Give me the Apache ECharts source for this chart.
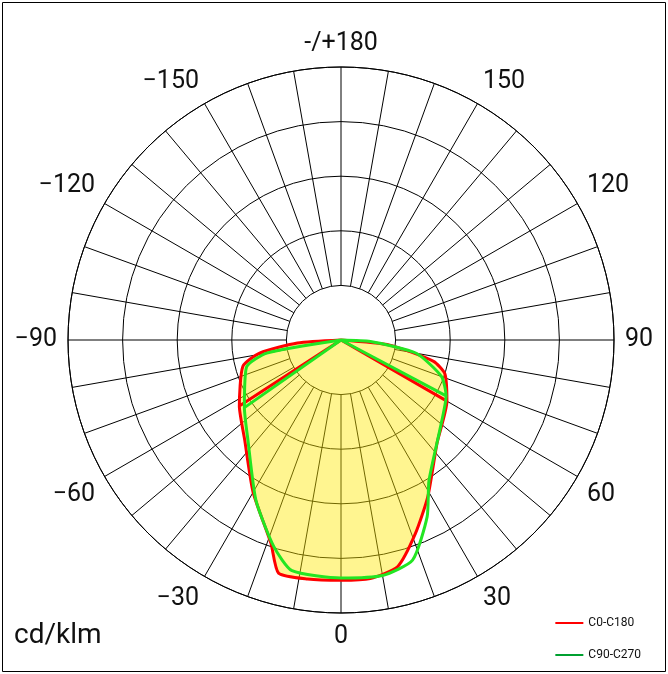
<!DOCTYPE html>
<html><head><meta charset="utf-8">
<script src="https://cdn.jsdelivr.net/npm/echarts@6/dist/echarts.min.js"></script>
<style>html,body{margin:0;padding:0;background:#fff}#c{width:668px;height:674px}</style>
</head><body><div id="c"></div>
<script>
// [intensity cd/klm, angle deg]
const c0c180 = [[111,-57],[0,-90],[40,-86],[75,-81],[93,-75],[111,-57],[127,-44],[161,-30],[197,-19],[221,-15],[221,-8],[220,0],[220,7],[214,14],[190,21],[164,29],[129,43],[112,60],[100,72],[87,77],[45,84],[0,90],[112,60]];
const c90c270 = [[108,-55],[0,-90],[69,-80],[90,-74],[108,-55],[125,-43],[166,-28],[199,-18],[216,-12],[218,0],[219,10],[212,18],[180,26],[152,32],[122,48],[109,62],[98,70],[70,80],[27,87],[0,90],[109,62]];
const spokeAngles = [];
for (let a = -180; a < 180; a += 10) spokeAngles.push(a);
const labelAngles = [-180,-150,-120,-90,-60,-30,0,30,60,90,120,150];

const spokes = [];
spokeAngles.forEach(a => { spokes.push([50, a], [250, a], '-'); });

const chart = echarts.init(document.getElementById('c'));
chart.setOption({
  animation: false,
  textStyle: {fontFamily: 'Roboto'},
  polar: {center: [341, 340], radius: 273},
  angleAxis: {
    type: 'value', min: -180, max: 180, interval: 10, startAngle: 90, clockwise: false,
    axisLine: {lineStyle: {color: '#000', width: 1}},
    axisTick: {show: false},
    splitLine: {show: false},
    axisLabel: {
      margin: 11, fontSize: 25, color: '#111',
      formatter: v => v === -180 ? '-/+180' : (labelAngles.includes(v) ? String(v).replace('-', '−') : '')
    }
  },
  radiusAxis: {
    min: 0, max: 250, interval: 50,
    axisLine: {show: false}, axisTick: {show: false}, axisLabel: {show: false},
    splitLine: {show: true, lineStyle: {color: '#000', width: 1}}
  },
  legend: {
    orient: 'vertical', right: 22, top: 612, itemWidth: 28, itemHeight: 2, itemGap: 20,
    icon: 'path://M0,0 L28,0 L28,2 L0,2 Z',
    textStyle: {fontSize: 12, color: '#111'},
    data: ['C0-C180', 'C90-C270']
  },
  graphic: [
    {type: 'rect', shape: {x: 2.5, y: 2.5, width: 663, height: 669}, style: {fill: 'none', stroke: '#000', lineWidth: 1}},
    {type: 'text', left: 14, top: 622, style: {text: 'cd/klm', fontSize: 28, fill: '#111', fontFamily: 'Roboto'}}
  ],
  series: [
    {type: 'line', coordinateSystem: 'polar', data: spokes, symbol: 'none', silent: true,
     lineStyle: {color: '#000', width: 1}, z: 1, connectNulls: false},
    {name: 'C0-C180', type: 'line', coordinateSystem: 'polar', data: c0c180, symbol: 'none', smooth: 0.2,
     lineStyle: {color: '#ff0000', width: 3}, itemStyle: {color: '#ff0000'},
     areaStyle: {color: 'rgba(255,232,0,0.62)', origin: 'start'}, z: 3},
    {name: 'C90-C270', type: 'line', coordinateSystem: 'polar', data: c90c270, symbol: 'none', smooth: 0.2,
     lineStyle: {color: '#22e622', width: 3}, itemStyle: {color: '#00a030'}, z: 4}
  ]
});
</script></body></html>
